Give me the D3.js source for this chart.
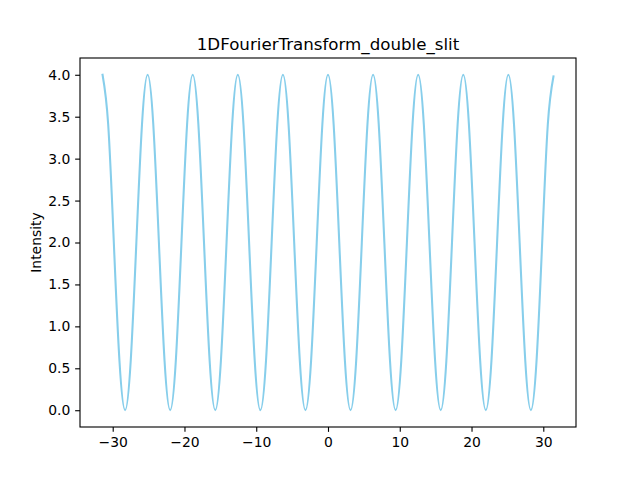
<!DOCTYPE html>
<html><head><meta charset="utf-8">
<script src="https://cdn.jsdelivr.net/npm/d3@7"></script>
<style>body{margin:0;background:#fff}svg{display:block}text{font-family:"DejaVu Sans",sans-serif}</style>
</head><body>
<svg id="c" width="640" height="480"></svg>
<script>
const title = "1DFourierTransform_double_slit";
const yLabel = "Intensity";
const xPos = [-31.416,-30.631,-29.845,-29.060,-28.274,-27.489,-26.704,-25.918,-25.133,-24.347,-23.562,-22.777,-21.991,-21.206,-20.420,-19.635,-18.850,-18.064,-17.279,-16.493,-15.708,-14.923,-14.137,-13.352,-12.566,-11.781,-10.996,-10.210,-9.425,-8.639,-7.854,-7.069,-6.283,-5.498,-4.712,-3.927,-3.142,-2.356,-1.571,-0.785,0,
0.785,1.571,2.356,3.142,3.927,4.712,5.498,6.283,7.069,7.854,8.639,9.425,10.210,10.996,11.781,12.566,13.352,14.137,14.923,15.708,16.493,17.279,18.064,18.850,19.635,20.420,21.206,21.991,22.777,23.562,24.347,25.133,25.918,26.704,27.489,28.274,29.060,29.845,30.631,31.416];
const intensity = [4,3.41,2,0.59,0,0.59,2,3.41,4,3.41,2,0.59,0,0.59,2,3.41,4,3.41,2,0.59,0,0.59,2,3.41,4,3.41,2,0.59,0,0.59,2,3.41,4,3.41,2,0.59,0,0.59,2,3.41,4,
3.41,2,0.59,0,0.59,2,3.41,4,3.41,2,0.59,0,0.59,2,3.41,4,3.41,2,0.59,0,0.59,2,3.41,4,3.41,2,0.59,0,0.59,2,3.41,4,3.41,2,0.59,0,0.59,2,3.41,3.98];
const xTicks = [-30,-20,-10,0,10,20,30];
const yTicks = [0,0.5,1,1.5,2,2.5,3,3.5,4];

const L=80,R=576,T=58,B=427;
const svg=d3.select("#c");
const x=d3.scaleLinear().domain([-34.558,34.558]).range([L,R]);
const y=d3.scaleLinear().domain([-0.2,4.2]).range([B,T]);
const data=xPos.map((v,i)=>[v,intensity[i]]);

const line=d3.line().x(d=>x(d[0])).y(d=>y(d[1])).curve(d3.curveNatural);
svg.append("path").datum(data)
  .attr("fill","none").attr("stroke","#87CEEB").attr("stroke-width",2.08)
  .attr("stroke-linejoin","round").attr("stroke-linecap","square")
  .attr("d",line);

const fmt=d=>(d<0?"\u2212":"")+Math.abs(d);
const xa=svg.append("g").attr("transform",`translate(0,${B})`)
  .call(d3.axisBottom(x).tickValues(xTicks).tickSize(4.86).tickPadding(4.86).tickFormat(fmt));
const ya=svg.append("g").attr("transform",`translate(${L},0)`)
  .call(d3.axisLeft(y).tickValues(yTicks).tickSize(4.86).tickPadding(4.86).tickFormat(d3.format(".1f")));
[xa,ya].forEach(g=>{g.select(".domain").remove();g.selectAll("text").attr("font-size",13.9).attr("fill","#000").style("font-family","DejaVu Sans");g.selectAll("line").attr("stroke","#000").attr("stroke-width",1.11);});

svg.append("rect").attr("x",L).attr("y",T).attr("width",R-L).attr("height",B-T)
  .attr("fill","none").attr("stroke","#000").attr("stroke-width",1.11);

svg.append("text").attr("x",(L+R)/2).attr("y",T-8.3).attr("text-anchor","middle").attr("font-size",16.67).text(title);
svg.append("text").attr("transform",`translate(${L-39},${(T+B)/2}) rotate(-90)`).attr("text-anchor","middle").attr("font-size",13.9).text(yLabel);
</script>
</body></html>
